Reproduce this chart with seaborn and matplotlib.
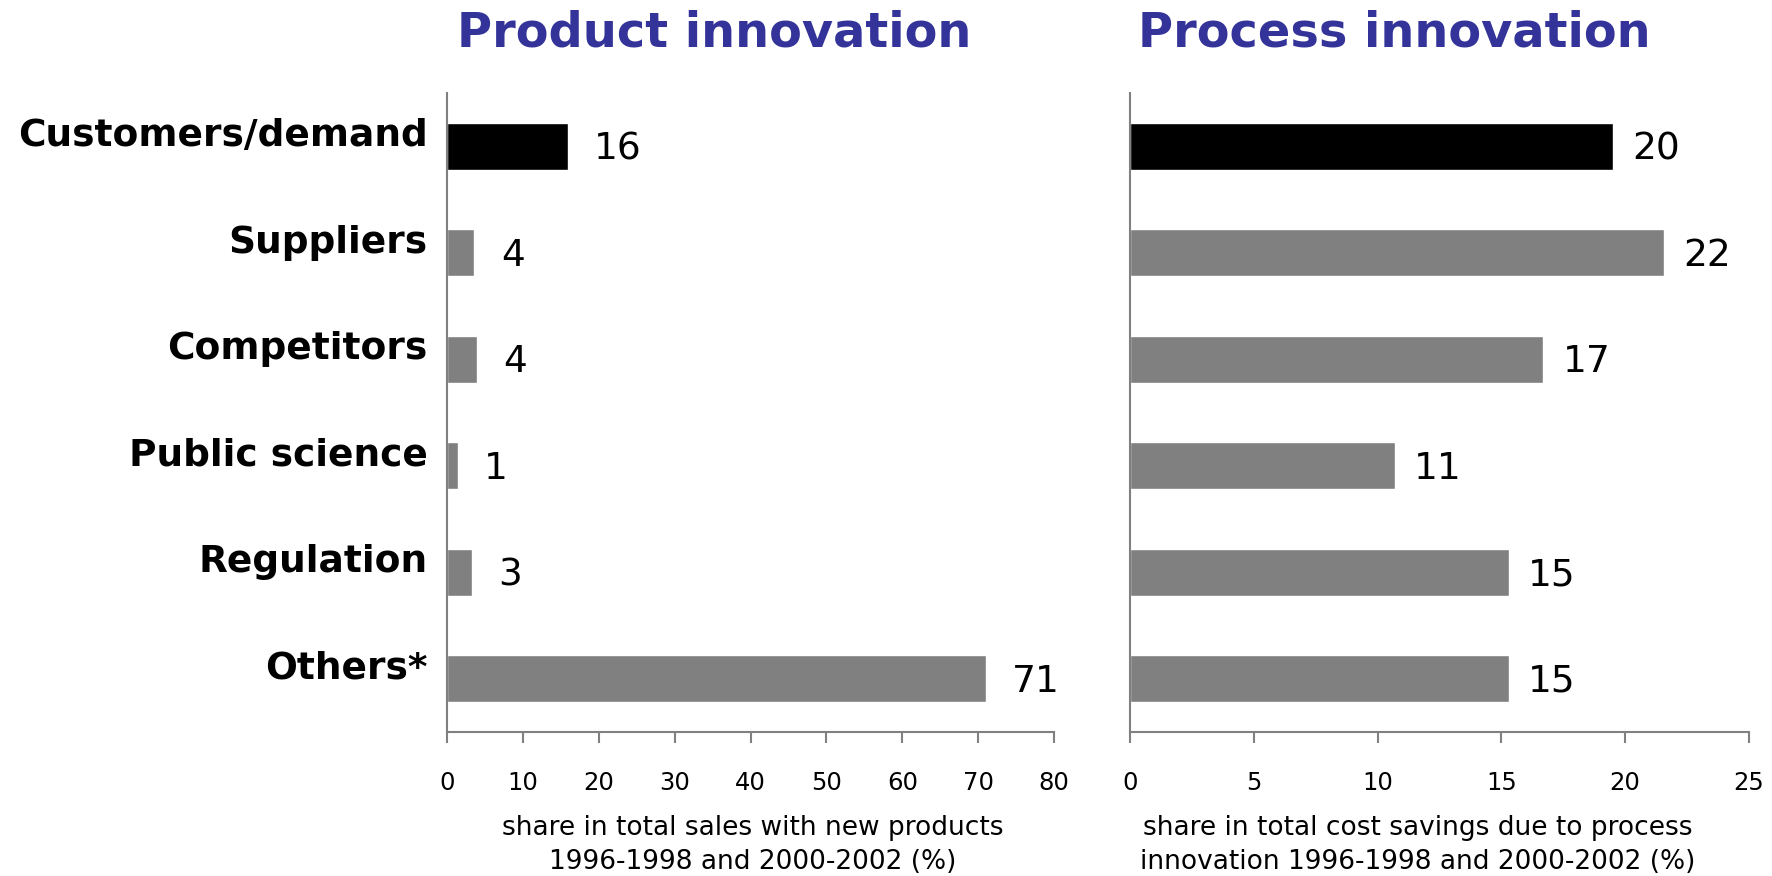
import matplotlib
matplotlib.use("Agg")
import matplotlib.pyplot as plt
import seaborn as sns
import pandas as pd
from matplotlib.transforms import ScaledTranslation

categories = ["Customers/demand", "Suppliers", "Competitors", "Public science", "Regulation", "Others*"]
product_values = [15.9, 3.6, 3.9, 1.4, 3.3, 71.0]
process_values = [19.5, 21.55, 16.7, 10.7, 15.3, 15.3]
product_ticks = [0, 10, 20, 30, 40, 50, 60, 70, 80]
process_ticks = [0, 5, 10, 15, 20, 25]
product_title = "Product innovation"
process_title = "Process innovation"
product_xlabel = "share in total sales with new products\n1996-1998 and 2000-2002 (%)"
process_xlabel = "share in total cost savings due to process\ninnovation 1996-1998 and 2000-2002 (%)"

sns.set_theme(style="white")
plt.rcParams["font.family"] = ["DejaVu Sans"]

bar_colors = ["#000000"] + ["#808080"] * 5
palette = dict(zip(categories, bar_colors))
title_color = "#333399"
spine_color = "#808080"

fig = plt.figure(figsize=(17.72, 8.76), dpi=100)
ax1 = fig.add_axes([0.2523, 0.1644, 0.3425, 0.7294])
ax2 = fig.add_axes([0.6377, 0.1644, 0.3493, 0.7294])

def draw(ax, values, ticks, xlabel, xlabel_x, show_labels, label_offset):
    df = pd.DataFrame({"category": categories, "value": values})
    sns.barplot(data=df, y="category", x="value", hue="category", palette=palette,
                legend=False, width=0.44, orient="h", ax=ax, saturation=1)
    ax.set_xlim(ticks[0], ticks[-1])
    ax.set_ylim(5.5, -0.5)
    ax.set_xticks(ticks)
    ax.set_xticklabels([str(t) for t in ticks], fontsize=17.5, color="black")
    ax.tick_params(axis="x", direction="out", length=8, width=1.5, color=spine_color,
                   pad=20, bottom=True)
    ax.tick_params(axis="y", length=0, pad=14)
    for s in ["top", "right"]:
        ax.spines[s].set_visible(False)
    for s in ["left", "bottom"]:
        ax.spines[s].set_color(spine_color)
        ax.spines[s].set_linewidth(1.5)
    ax.set_ylabel("")
    ax.set_xlabel(xlabel, fontsize=19, linespacing=1.4, color="black")
    ax.xaxis.set_label_coords(xlabel_x, -0.13, transform=ax.transAxes)
    ax.xaxis.label.set_va("top")
    ax.set_yticks(range(len(categories)))
    if show_labels:
        ax.set_yticklabels(categories, fontsize=27, fontweight="bold", color="black")
        for lab in ax.get_yticklabels():
            lab.set_transform(lab.get_transform() + ScaledTranslation(0, 0.14, fig.dpi_scale_trans))
    else:
        ax.set_yticklabels([])
    for i, v in enumerate(values):
        ax.annotate(f"{v:.0f}", xy=(v, i), xytext=(label_offset, -2), textcoords="offset points",
                    va="center", ha="left", fontsize=27, color="black")

draw(ax1, product_values, product_ticks, product_xlabel, 0.504, True, 19)
draw(ax2, process_values, process_ticks, process_xlabel, 0.465, False, 14)

fig.text(714 / 1772, 1 - 33 / 876, product_title, ha="center", va="center",
         fontsize=34.5, fontweight="bold", color=title_color)
fig.text(1394 / 1772, 1 - 33 / 876, process_title, ha="center", va="center",
         fontsize=34.5, fontweight="bold", color=title_color)

fig.savefig("out.png", dpi=100, facecolor="white")
